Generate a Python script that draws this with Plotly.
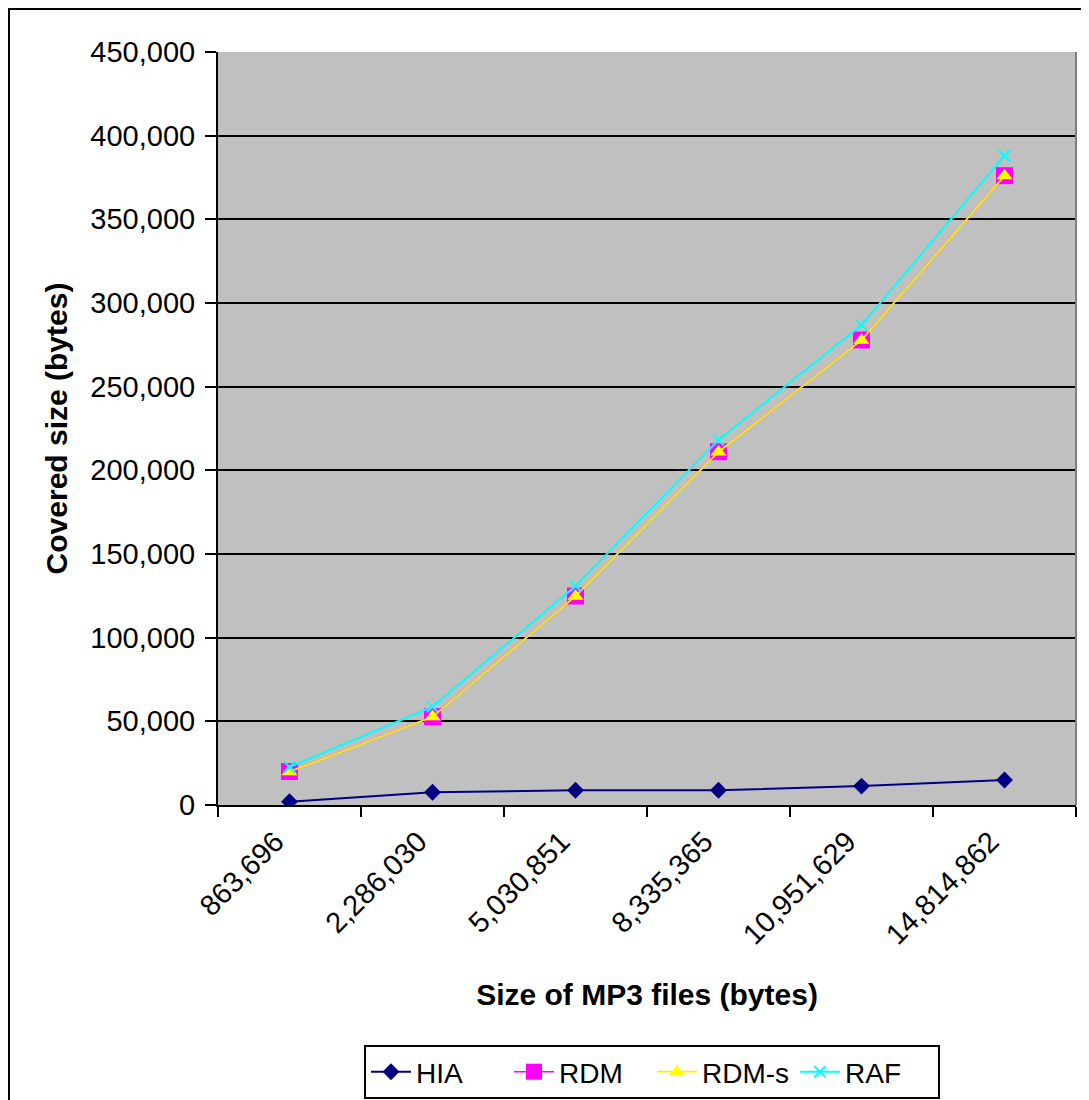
import plotly.graph_objects as go

categories = ["863,696", "2,286,030", "5,030,851", "8,335,365", "10,951,629", "14,814,862"]
hia = [2000, 7600, 8800, 8800, 11300, 14900]
rdm = [20000, 52800, 124900, 211100, 277900, 376100]
rdm_s = [19900, 52700, 124800, 211000, 277800, 376000]
raf = [22700, 58700, 130900, 218100, 286800, 388000]
y_ticks = list(range(0, 450001, 50000))

FONT = "Liberation Sans, Arial, sans-serif"

fig = go.Figure()
fig.add_trace(go.Scatter(x=categories, y=hia, name="HIA", mode="lines+markers",
                         line=dict(color="#000080", width=2),
                         marker=dict(symbol="diamond", size=13, color="#000080")))
fig.add_trace(go.Scatter(x=categories, y=rdm, name="RDM", mode="lines+markers",
                         line=dict(color="#FF00FF", width=1.5),
                         marker=dict(symbol="square", size=17, color="#FF00FF")))
fig.add_trace(go.Scatter(x=categories, y=rdm_s, name="RDM-s", mode="lines+markers",
                         line=dict(color="#FFEE00", width=1.8),
                         marker=dict(symbol="triangle-up", size=14, color="#FFFF00")))
fig.add_trace(go.Scatter(x=categories, y=raf, name="RAF", mode="lines+markers",
                         line=dict(color="#00FFFF", width=2),
                         marker=dict(symbol="x-thin-open", size=11,
                                     line=dict(color="#00FFFF", width=2))))

# page has an 8px body margin: figure coordinates = page coordinates - 8
W, H = 1081, 1092
L, T = 210, 44
PR, PB = 1068, 797
R, B = W - PR, H - PB
pw, ph = PR - L, PB - T

fig.update_layout(
    width=W, height=H,
    margin=dict(l=L, r=R, t=T, b=B, autoexpand=False),
    paper_bgcolor="white",
    plot_bgcolor="#C0C0C0",
    font=dict(family=FONT, size=29, color="black"),
    showlegend=True,
    legend=dict(orientation="h", x=(356 - L) / pw, xanchor="left", y=(PB - 1037) / ph, yanchor="top",
                bordercolor="black", borderwidth=2, bgcolor="white",
                font=dict(size=28), itemwidth=40, tracegroupgap=0,
                entrywidth=88, entrywidthmode="pixels"),
    xaxis=dict(type="category", tickson="boundaries", ticks="outside", ticklen=10,
               tickcolor="black", tickwidth=2, showline=True, linecolor="black", linewidth=2,
               showgrid=False, tickangle=-45, tickfont=dict(size=29),
               ticklabelshift=-14, ticklabelstandoff=6,
               title=dict(text="<b>Size of MP3 files (bytes)</b>", font=dict(size=30), standoff=35),
               range=[-0.5, 5.5], automargin=False),
    yaxis=dict(range=[0, 450000], tickvals=y_ticks, tickformat=",", ticks="outside", ticklen=11,
               tickcolor="black", tickwidth=2, showline=True, linecolor="black", linewidth=2,
               showgrid=True, gridcolor="black", gridwidth=2, zeroline=False,
               tickfont=dict(size=29), ticklabelstandoff=4,
               title=dict(text="<b>Covered size (bytes)</b>", font=dict(size=30), standoff=14),
               automargin=False),
)

# right border of plot area (grey) and outer chart border
fig.add_shape(type="line", xref="paper", yref="paper", x0=1, x1=1, y0=0, y1=1,
              line=dict(color="#808080", width=2))
fig.add_shape(type="rect", xref="paper", yref="paper",
              x0=(1 - L) / pw, x1=(1077 - L) / pw, y0=-0.6, y1=(PB - 1) / ph,
              line=dict(color="black", width=2), fillcolor="rgba(0,0,0,0)", layer="below")

fig.write_html("out.html")
